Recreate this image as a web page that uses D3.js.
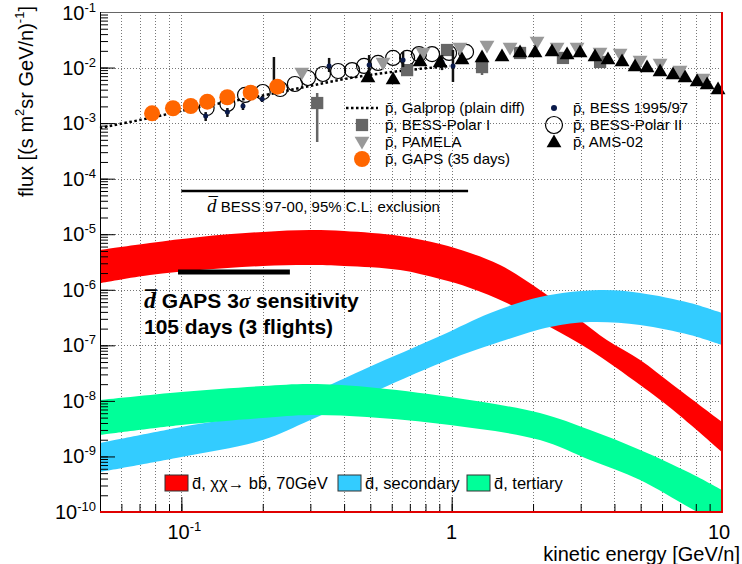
<!DOCTYPE html>
<html lang="en">
<head>
<meta charset="utf-8" />
<title>Antideuteron flux vs kinetic energy</title>
<script src="https://d3js.org/d3.v7.min.js"></script>
<style>
  body { margin: 0; background: #fff; }
  svg { font-family: "Liberation Sans", Arial, sans-serif; }
</style>
</head>
<body>
<script>
// ---- data: [kinetic energy GeV/n, flux] ----
// d-bar bands (upper and lower edges)
const redUpper = [[0.05, 5.2e-6], [0.0765, 6.95e-6], [0.117, 8.91e-6], [0.2, 1.10e-5], [0.299, 1.19e-5],
  [0.4, 1.14e-5], [0.644, 9.29e-6], [0.906, 6.67e-6], [1.17, 4.59e-6], [1.51, 2.79e-6], [2.12, 9.91e-7],
  [2.98, 2.86e-7], [3.75, 1.25e-7], [4.98, 5.45e-8], [6.59, 1.93e-8], [10, 4.17e-9]];
const redLower = [[0.05, 1.32e-6], [0.0765, 1.85e-6], [0.117, 2.27e-6], [0.2, 2.68e-6], [0.299, 2.79e-6],
  [0.4, 2.68e-6], [0.644, 2.27e-6], [0.906, 1.56e-6], [1.17, 1.08e-6], [1.60, 5.78e-7], [2.31, 2.14e-7],
  [3.25, 8.24e-8], [4.98, 1.93e-8], [6.59, 6.85e-9], [10, 1.20e-9]];
const blueUpper = [[0.05, 1.75e-9], [0.1, 3.39e-9], [0.2, 6.31e-9], [0.334, 1.71e-8], [0.486, 3.91e-8],
  [0.906, 1.47e-7], [1.39, 3.82e-7], [2.12, 7.41e-7], [3.54, 9.91e-7], [4.98, 8.75e-7], [7.62, 5.78e-7], [10, 3.82e-7]];
const blueLower = [[0.05, 5.25e-10], [0.1, 9.77e-10], [0.2, 1.98e-9], [0.3, 4.53e-9], [0.486, 1.28e-8],
  [0.929, 5.01e-8], [1.39, 1.01e-7], [2.31, 2.14e-7], [3.25, 2.63e-7], [4.98, 2.32e-7], [7.62, 1.53e-7], [10, 1.01e-7]];
const greenUpper = [[0.05, 1.04e-8], [0.1, 1.45e-8], [0.2, 1.85e-8], [0.3, 2.01e-8], [0.486, 1.78e-8],
  [0.986, 1.17e-8], [2.12, 6.05e-9], [3.25, 2.99e-9], [4.98, 1.31e-9], [7.62, 5.04e-10], [10, 2.49e-10]];
const greenLower = [[0.05, 2.43e-9], [0.1, 3.68e-9], [0.2, 4.92e-9], [0.3, 5.57e-9], [0.486, 5.13e-9],
  [0.986, 3.68e-9], [2.12, 1.98e-9], [3.25, 8.63e-10], [4.98, 3.77e-10], [7.62, 1.18e-10], [10, 5.83e-11]];

// p-bar measurements and model
const galprop = [[0.05, 8.2e-4], [0.0765, 1.24e-3], [0.117, 1.95e-3], [0.179, 2.83e-3], [0.275, 4.29e-3],
  [0.421, 6.49e-3], [0.644, 8.67e-3], [0.985, 1.07e-2]];
const gaps35 = [[0.0779, 1.50e-3], [0.0931, 1.85e-3], [0.1083, 2.03e-3], [0.1247, 2.43e-3], [0.1479, 2.92e-3],
  [0.1805, 3.53e-3], [0.2264, 4.53e-3]];
// [E, flux, low, high]
const bess9597 = [[0.123, 1.34e-3, 1.09e-3, 1.58e-3], [0.148, 1.58e-3, 1.29e-3, 1.87e-3], [0.169, 2.03e-3, 1.72e-3, 2.30e-3],
  [0.199, 2.72e-3, 2.40e-3, 3.08e-3], [0.220, 4.5e-3, 3.9e-3, 1.55e-2], [0.352, 1.07e-2, 8.32e-3, 1.49e-2],
  [0.495, 1.11e-2, 7.35e-3, 1.68e-2], [0.661, 1.37e-2, 1.02e-2, 1.91e-2], [0.921, 1.26e-2, 9.0e-3, 1.68e-2],
  [1.011, 1.07e-2, 5.5e-3, 2.07e-2]];
const bessPolar2 = [[0.124, 1.87e-3], [0.148, 2.21e-3], [0.172, 3.21e-3], [0.200, 3.63e-3], [0.232, 4.11e-3],
  [0.263, 5.06e-3], [0.294, 6.49e-3], [0.334, 7.66e-3], [0.380, 8.67e-3], [0.428, 9.0e-3], [0.474, 1.07e-2],
  [0.534, 1.21e-2], [0.607, 1.49e-2], [0.684, 1.49e-2], [0.757, 1.75e-2], [0.846, 1.75e-2], [0.978, 1.83e-2], [1.130, 1.91e-2]];
const bessPolar1 = [[0.318, 2.30e-3, 4.57e-4, 3.48e-3], [0.684, 9.0e-3, 7.9e-3, 1.0e-2], [0.961, 2.07e-2, 1.9e-2, 2.2e-2],
  [1.295, 1.02e-2, 7.35e-3, 1.15e-2], [1.79, 1.83e-2, 1.7e-2, 2.0e-2], [2.58, 1.49e-2, 1.4e-2, 1.6e-2], [3.54, 1.26e-2, 1.2e-2, 1.35e-2]];
const pamela = [[0.279, 8.32e-3], [0.557, 1.26e-2], [0.783, 1.91e-2], [1.073, 2.34e-2], [1.351, 2.55e-2], [1.644, 2.34e-2],
  [2.069, 3.01e-2], [2.454, 2.34e-2], [2.910, 2.34e-2], [3.538, 1.91e-2], [4.197, 1.83e-2], [4.975, 1.37e-2],
  [5.90, 1.21e-2], [6.99, 9.0e-3], [8.51, 6.49e-3]];
const ams02 = [[0.490, 6.49e-3], [0.607, 5.97e-3], [0.764, 1.26e-2], [0.906, 1.21e-2], [1.092, 1.37e-2], [1.295, 1.49e-2],
  [1.535, 1.55e-2], [1.790, 1.83e-2], [2.034, 1.83e-2], [2.350, 1.91e-2], [2.672, 1.68e-2], [2.985, 1.83e-2],
  [3.390, 1.55e-2], [3.787, 1.37e-2], [4.268, 1.26e-2], [4.768, 1.02e-2], [5.28, 9.8e-3], [5.90, 8.32e-3],
  [6.59, 7.35e-3], [7.30, 6.49e-3], [8.09, 5.50e-3], [8.81, 4.85e-3], [9.67, 3.94e-3]];

// limits: [Emin, Emax, flux]
const bessExclusion = [0.1, 1.15, 6.0e-5];
const gapsSensitivity = [0.0972, 0.252, 2.1e-6];

const xMajor = [0.1, 1, 10];
const xMajorLabels = [["10", "-1"], ["1", ""], ["10", ""]];
const yDecades = [-10, -9, -8, -7, -6, -5, -4, -3, -2, -1];

// ---- layout ----
const W = 742, H = 564;
const L = 100, R = 722, T = 12, B = 512;

const x = d3.scaleLog().domain([0.05, 10]).range([L, R]);
const y = d3.scaleLog().domain([1e-10, 1e-1]).range([B, T]);

const svg = d3.select("body").append("svg").attr("width", W).attr("height", H);

svg.append("clipPath").attr("id", "plot")
  .append("rect").attr("x", L).attr("y", T).attr("width", R - L).attr("height", B - T);

// grid
const xMinor = x.ticks().filter(d => d > 0.05 && d < 10);
const yMinor = [];
yDecades.slice(0, -1).forEach(k => { for (let m = 1; m <= 9; m++) yMinor.push(m * Math.pow(10, k)); });
yMinor.push(0.1);

const grid = svg.append("g").attr("stroke", "#777").attr("stroke-width", 1).attr("stroke-dasharray", "1,2");
grid.selectAll("line.vx").data(xMinor).enter().append("line")
  .attr("x1", d => Math.round(x(d)) + 0.5).attr("x2", d => Math.round(x(d)) + 0.5)
  .attr("y1", T).attr("y2", B);
grid.selectAll("line.hy").data(yDecades.slice(1, -1)).enter().append("line")
  .attr("x1", L).attr("x2", R)
  .attr("y1", d => Math.round(y(Math.pow(10, d))) + 0.5).attr("y2", d => Math.round(y(Math.pow(10, d))) + 0.5);

// bands
const edge = d3.line().x(d => x(d[0])).y(d => y(d[1])).curve(d3.curveCatmullRom);
function bandPath(upper, lower) {
  return edge(upper) + edge(lower.slice().reverse()).replace("M", "L") + "Z";
}
const bands = svg.append("g").attr("clip-path", "url(#plot)");
bands.append("path").attr("d", bandPath(redUpper, redLower)).attr("fill", "#ff0000");
bands.append("path").attr("d", bandPath(blueUpper, blueLower)).attr("fill", "#33ccff");
bands.append("path").attr("d", bandPath(greenUpper, greenLower)).attr("fill", "#00ff99");

// limit lines
svg.append("line")
  .attr("x1", x(bessExclusion[0])).attr("x2", x(bessExclusion[1]))
  .attr("y1", y(bessExclusion[2])).attr("y2", y(bessExclusion[2]))
  .attr("stroke", "#000").attr("stroke-width", 2.5);
svg.append("line")
  .attr("x1", x(gapsSensitivity[0])).attr("x2", x(gapsSensitivity[1]))
  .attr("y1", y(gapsSensitivity[2])).attr("y2", y(gapsSensitivity[2]))
  .attr("stroke", "#000").attr("stroke-width", 5);

// galprop
svg.append("path").datum(galprop)
  .attr("d", d3.line().x(d => x(d[0])).y(d => y(d[1])).curve(d3.curveCatmullRom))
  .attr("fill", "none").attr("stroke", "#000").attr("stroke-width", 2.5).attr("stroke-dasharray", "2.5,2.5");

const tri = d3.symbol().type(d3.symbolTriangle).size(95);
const sq = d3.symbol().type(d3.symbolSquare).size(150);

// BESS-Polar II (open circles)
svg.append("g").selectAll("circle").data(bessPolar2).enter().append("circle")
  .attr("cx", d => x(d[0])).attr("cy", d => y(d[1])).attr("r", 7.5)
  .attr("fill", "none").attr("stroke", "#000").attr("stroke-width", 1.2);

// BESS-Polar I
const bp1 = svg.append("g").attr("fill", "#666").attr("stroke", "#666");
bp1.selectAll("line").data(bessPolar1).enter().append("line")
  .attr("x1", d => x(d[0])).attr("x2", d => x(d[0]))
  .attr("y1", d => y(d[2])).attr("y2", d => y(d[3])).attr("stroke-width", 2.5);
bp1.selectAll("path").data(bessPolar1).enter().append("path")
  .attr("d", sq).attr("stroke", "none")
  .attr("transform", d => `translate(${x(d[0])},${y(d[1])})`);

// PAMELA
svg.append("g").selectAll("path").data(pamela).enter().append("path")
  .attr("d", tri).attr("fill", "#999")
  .attr("transform", d => `translate(${x(d[0])},${y(d[1])}) rotate(180)`);

// BESS 1995/97
const b97 = svg.append("g");
b97.selectAll("line").data(bess9597).enter().append("line")
  .attr("x1", d => x(d[0])).attr("x2", d => x(d[0]))
  .attr("y1", d => y(d[2])).attr("y2", d => y(d[3]))
  .attr("stroke", "#111").attr("stroke-width", 2.5);
b97.selectAll("circle").data(bess9597).enter().append("circle")
  .attr("cx", d => x(d[0])).attr("cy", d => y(d[1])).attr("r", 2.5).attr("fill", "#0a1a4a");

// AMS-02
svg.append("g").selectAll("path").data(ams02).enter().append("path")
  .attr("d", tri).attr("fill", "#000")
  .attr("transform", d => `translate(${x(d[0])},${y(d[1])})`);

// GAPS 35 days
svg.append("g").selectAll("circle").data(gaps35).enter().append("circle")
  .attr("cx", d => x(d[0])).attr("cy", d => y(d[1])).attr("r", 8).attr("fill", "#ff6600");

// ---- axes / frame ----
svg.append("g").attr("transform", `translate(${L},0)`)
  .call(d3.axisLeft(y).tickValues(yMinor).tickSize(-8).tickFormat(""))
  .call(g => g.select(".domain").remove());
svg.append("g").attr("transform", `translate(${L},0)`)
  .call(d3.axisLeft(y).tickValues(yDecades.map(k => Math.pow(10, k))).tickSize(-15).tickFormat(""))
  .call(g => g.select(".domain").remove());
svg.append("g").attr("transform", `translate(0,${B})`)
  .call(d3.axisBottom(x).tickValues(xMinor).tickSize(-8).tickFormat(""))
  .call(g => g.select(".domain").remove());
svg.append("g").attr("transform", `translate(0,${B})`)
  .call(d3.axisBottom(x).tickValues(xMajor).tickSize(-15).tickFormat(""))
  .call(g => g.select(".domain").remove());

svg.append("line").attr("x1", L).attr("x2", R).attr("y1", T + 0.5).attr("y2", T + 0.5).attr("stroke", "#666");
svg.append("line").attr("x1", L + 0.5).attr("x2", L + 0.5).attr("y1", T).attr("y2", B).attr("stroke", "#000");
svg.append("line").attr("x1", L).attr("x2", R + 1).attr("y1", B).attr("y2", B).attr("stroke", "#e00000").attr("stroke-width", 2);
svg.append("line").attr("x1", R).attr("x2", R).attr("y1", T).attr("y2", B).attr("stroke", "#e00000").attr("stroke-width", 2);

// tick labels
const yl = svg.append("g").attr("font-size", 20).attr("fill", "#000");
yDecades.forEach(k => {
  const t = yl.append("text").attr("x", 96).attr("y", y(Math.pow(10, k)) + 7 + (k === -1 ? 1 : 0)).attr("text-anchor", "end");
  t.append("tspan").text("10");
  t.append("tspan").attr("font-size", 13).attr("dy", -8).text(String(k));
});
const xl = svg.append("g").attr("font-size", 20).attr("fill", "#000");
xMajor.forEach((v, i) => {
  const t = xl.append("text").attr("x", x(v) + (i === 0 ? 3 : i === 2 ? -3 : 0)).attr("y", 539).attr("text-anchor", "middle");
  t.append("tspan").text(xMajorLabels[i][0]);
  if (xMajorLabels[i][1]) t.append("tspan").attr("font-size", 13).attr("dy", -8).text(xMajorLabels[i][1]);
});

// axis titles
svg.append("text").attr("x", 740).attr("y", 561).attr("text-anchor", "end").attr("font-size", 20)
  .text("kinetic energy [GeV/n]");
const yt = svg.append("text").attr("transform", "translate(33,6) rotate(-90)").attr("text-anchor", "end").attr("font-size", 20);
yt.append("tspan").text("flux [(s m");
yt.append("tspan").attr("font-size", 13).attr("dy", -9).text("2");
yt.append("tspan").attr("dy", 9).text("sr GeV/n)");
yt.append("tspan").attr("font-size", 13).attr("dy", -9).text("-1");
yt.append("tspan").attr("dy", 9).text("]");

// ---- annotations ----
const ex = svg.append("text").attr("x", 207).attr("y", 212).attr("font-size", 15);
ex.append("tspan").attr("font-family", "Liberation Serif, serif").attr("font-style", "italic").attr("font-size", 19).text("d\u0305");
ex.append("tspan").text(" BESS 97-00, 95% C.L. exclusion");

const s1 = svg.append("text").attr("x", 144).attr("y", 308).attr("font-size", 21).attr("font-weight", "bold");
s1.append("tspan").attr("font-family", "Liberation Serif, serif").attr("font-style", "italic").attr("font-size", 24).text("d\u0305");
s1.append("tspan").text(" GAPS 3");
s1.append("tspan").attr("font-family", "Liberation Serif, serif").attr("font-style", "italic").text("\u03c3");
s1.append("tspan").text(" sensitivity");
svg.append("text").attr("x", 144).attr("y", 334).attr("font-size", 21).attr("font-weight", "bold")
  .text("105 days (3 flights)");

// top legend
const leg = svg.append("g").attr("font-size", 15);
const rows = [113, 130, 147, 164];
leg.append("line").attr("x1", 346).attr("x2", 378).attr("y1", rows[0] - 5).attr("y2", rows[0] - 5)
  .attr("stroke", "#000").attr("stroke-width", 2.5).attr("stroke-dasharray", "2.5,2.5");
leg.append("path").attr("d", sq).attr("fill", "#666").attr("transform", `translate(362,${rows[1] - 5})`);
leg.append("path").attr("d", tri).attr("fill", "#999").attr("transform", `translate(362,${rows[2] - 6}) rotate(180)`);
leg.append("circle").attr("cx", 362).attr("cy", rows[3] - 5).attr("r", 8).attr("fill", "#ff6600");
["p\u0304, Galprop (plain diff)", "p\u0304, BESS-Polar I", "p\u0304, PAMELA", "p\u0304, GAPS (35 days)"]
  .forEach((s, i) => leg.append("text").attr("x", 385).attr("y", rows[i]).text(s));
leg.append("circle").attr("cx", 554).attr("cy", rows[0] - 5).attr("r", 3).attr("fill", "#0a1a4a");
leg.append("circle").attr("cx", 554).attr("cy", rows[1] - 5).attr("r", 8.5).attr("fill", "none").attr("stroke", "#000").attr("stroke-width", 1.2);
leg.append("path").attr("d", tri).attr("fill", "#000").attr("transform", `translate(554,${rows[2] - 4})`);
["p\u0304, BESS 1995/97", "p\u0304, BESS-Polar II", "p\u0304, AMS-02"]
  .forEach((s, i) => leg.append("text").attr("x", 573).attr("y", rows[i]).text(s));

// bottom legend
const bl = svg.append("g").attr("font-size", 16.5);
[[165, "#ff0000", "d\u0304, \u03c7\u03c7\u2192 bb\u0304, 70GeV"], [338, "#33ccff", "d\u0304, secondary"], [467, "#00ff99", "d\u0304, tertiary"]]
  .forEach(d => {
    bl.append("rect").attr("x", d[0]).attr("y", 475).attr("width", 23).attr("height", 16)
      .attr("fill", d[1]).attr("stroke", "#333").attr("stroke-width", 1);
    bl.append("text").attr("x", d[0] + 27).attr("y", 489).text(d[2]);
  });
</script>
</body>
</html>
